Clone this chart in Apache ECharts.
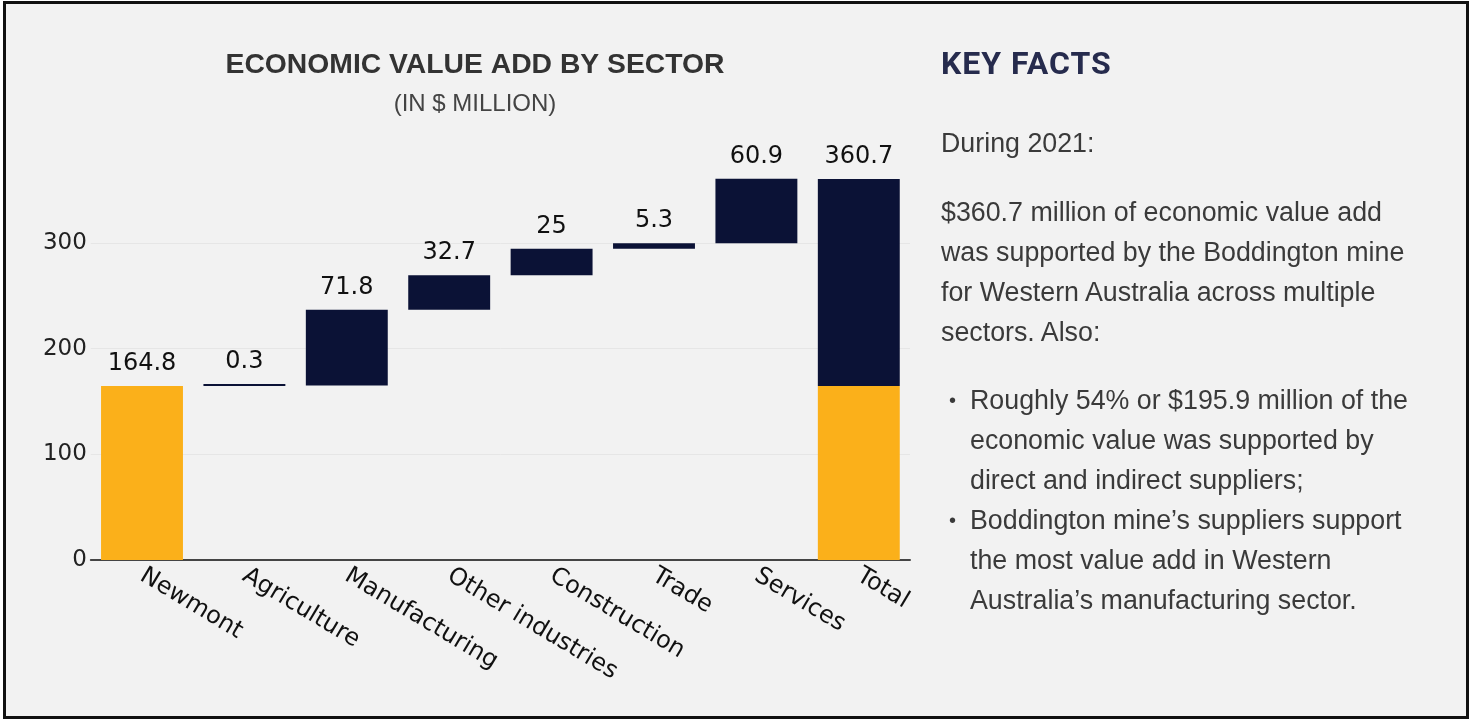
<!DOCTYPE html>
<html>
<head>
<meta charset="utf-8">
<script src="https://cdn.jsdelivr.net/npm/echarts@6/dist/echarts.min.js"></script>
<style>
  html, body { margin: 0; padding: 0; background: #ffffff; width: 1473px; height: 720px; overflow: hidden; }
  #frame { position: absolute; left: 3px; top: 1px; width: 1460px; height: 712px; border: 3px solid #111; background: #f2f2f2; }
  #chart { position: absolute; left: 0; top: 0; width: 1473px; height: 720px; }
  #facts { position: absolute; left: 941px; top: 40px; width: 525px; white-space: nowrap; font-family: "Liberation Sans", Arial, sans-serif; color: #3a3a3a; font-size: 26.8px; line-height: 40px; }
  #facts h2 { margin: 0; font-family: Roboto, "Liberation Sans", sans-serif; font-weight: 700; font-size: 32px; color: #262b4d; line-height: 46px; letter-spacing: 1px; }
  #facts p { margin: 0; }
  #facts ul { margin: 0; padding: 0; list-style: none; }
  #facts li { position: relative; padding-left: 29px; }
  #facts li::before { content: "•"; position: absolute; left: 8px; top: 0; font-size: 20px; }
</style>
</head>
<body>
<div id="frame"></div>
<div id="chart"></div>
<div id="facts">
  <h2>KEY FACTS</h2>
  <p style="margin-top:37px">During 2021:</p>
  <p style="margin-top:29px">$360.7 million of economic value add<br>was supported by the Boddington mine<br>for Western Australia across multiple<br>sectors. Also:</p>
  <ul style="margin-top:28px">
    <li>Roughly 54% or $195.9 million of the<br>economic value was supported by<br>direct and indirect suppliers;</li>
    <li>Boddington mine’s suppliers support<br>the most value add in Western<br>Australia’s manufacturing sector.</li>
  </ul>
</div>
<script>
// ---- data ----
const categories = ['Newmont', 'Agriculture', 'Manufacturing', 'Other industries', 'Construction', 'Trade', 'Services', 'Total'];
const newmontValues = [164.8, null, null, null, null, null, null, 164.8];
const sectorValues = [null, 0.3, 71.8, 32.7, 25, 5.3, 60.9, 195.9];
const barLabels = ['164.8', '0.3', '71.8', '32.7', '25', '5.3', '60.9', '360.7'];
const yTicks = [0, 100, 200, 300];

// ---- waterfall bases derived from the values ----
const bases = [];
let running = 0;
for (let i = 0; i < categories.length; i++) {
  if (i === 0 || i === categories.length - 1) { bases.push(0); }
  else { bases.push(running); }
  if (i < categories.length - 1) running += (newmontValues[i] || 0) + (sectorValues[i] || 0);
}

const GOLD = '#fbb01a';
const NAVY = '#0b1236';
const labelStyle = { show: true, position: 'top', distance: 10, color: '#111', fontFamily: 'DejaVu Sans', fontSize: 24 };

const goldData = newmontValues.map((v, i) => {
  if (v == null) return '-';
  const item = { value: v };
  if (sectorValues[i] == null) item.label = Object.assign({}, labelStyle, { formatter: barLabels[i] });
  return item;
});
const navyData = sectorValues.map((v, i) => {
  if (v == null) return '-';
  return { value: v, label: Object.assign({}, labelStyle, { formatter: barLabels[i] }) };
});

const chart = echarts.init(document.getElementById('chart'), null, { renderer: 'canvas' });
chart.setOption({
  animation: false,
  backgroundColor: 'transparent',
  title: [
    { text: 'ECONOMIC VALUE ADD BY SECTOR', left: 470, top: 46, textAlign: 'center',
      textStyle: { fontFamily: 'Liberation Sans', fontWeight: 'bold', fontSize: 28.3, color: '#333' } },
    { text: '(IN $ MILLION)', left: 470, top: 87, textAlign: 'center',
      textStyle: { fontFamily: 'Liberation Sans', fontWeight: 'normal', fontSize: 24, color: '#444' } }
  ],
  grid: { left: 90.8, right: 563, top: 158.5, bottom: 160, containLabel: false },
  xAxis: {
    type: 'category', data: categories,
    axisLine: { show: true, lineStyle: { color: '#444', width: 2 } },
    axisTick: { show: false },
    axisLabel: { rotate: -31, margin: 14, color: '#111', fontFamily: 'DejaVu Sans', fontSize: 24, interval: 0 }
  },
  yAxis: {
    type: 'value', min: 0, max: 380, interval: 100,
    axisLine: { show: false }, axisTick: { show: false },
    axisLabel: { color: '#222', fontFamily: 'DejaVu Sans', fontSize: 23, margin: 4, showMaxLabel: false,
      formatter: v => (yTicks.indexOf(v) >= 0 ? String(v) : '') },
    splitLine: { show: true, showMaxLine: false, showMinLine: false, lineStyle: { color: '#e6e6e6', width: 1 } }
  },
  series: [
    { name: 'base', type: 'bar', stack: 'w', data: bases, itemStyle: { color: 'transparent' }, barWidth: '80%', silent: true },
    { name: 'Newmont', type: 'bar', stack: 'w', data: goldData, itemStyle: { color: GOLD }, barWidth: '80%' },
    { name: 'Sectors', type: 'bar', stack: 'w', data: navyData, itemStyle: { color: NAVY }, barWidth: '80%', barMinHeight: 2 }
  ]
});
</script>
</body>
</html>
